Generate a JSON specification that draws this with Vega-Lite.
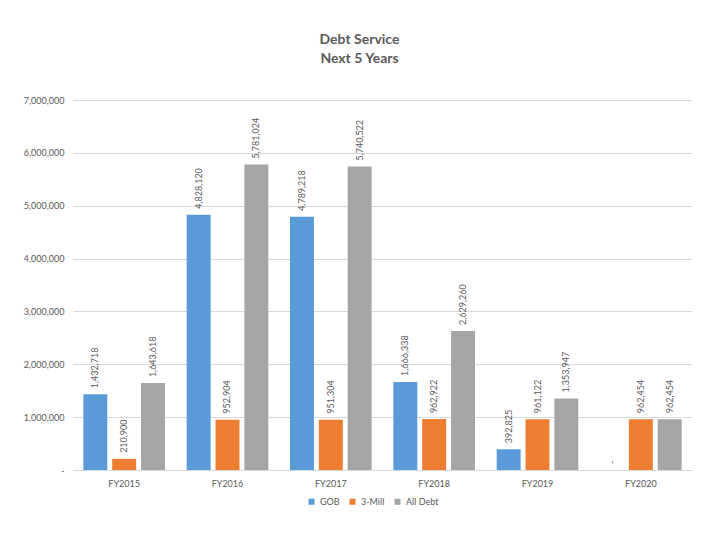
{
  "$schema": "https://vega.github.io/schema/vega-lite/v6.json",
  "width": 619,
  "height": 370,
  "autosize": {"type": "none"},
  "padding": {"left": 73, "top": 100, "right": 28, "bottom": 70},
  "background": "white",
  "title": {
    "text": ["Debt Service", "Next 5 Years"],
    "font": "Lato",
    "fontSize": 14,
    "fontWeight": "bold",
    "color": "#595959",
    "anchor": "middle",
    "dx": -23,
    "offset": 30,
    "lineHeight": 19
  },
  "data": {
    "values": [
      {"year": "FY2015", "series": "GOB", "value": 1432718},
      {"year": "FY2015", "series": "3-Mill", "value": 210900},
      {"year": "FY2015", "series": "All Debt", "value": 1643618},
      {"year": "FY2016", "series": "GOB", "value": 4828120},
      {"year": "FY2016", "series": "3-Mill", "value": 952904},
      {"year": "FY2016", "series": "All Debt", "value": 5781024},
      {"year": "FY2017", "series": "GOB", "value": 4789218},
      {"year": "FY2017", "series": "3-Mill", "value": 951304},
      {"year": "FY2017", "series": "All Debt", "value": 5740522},
      {"year": "FY2018", "series": "GOB", "value": 1666338},
      {"year": "FY2018", "series": "3-Mill", "value": 962922},
      {"year": "FY2018", "series": "All Debt", "value": 2629260},
      {"year": "FY2019", "series": "GOB", "value": 392825},
      {"year": "FY2019", "series": "3-Mill", "value": 961122},
      {"year": "FY2019", "series": "All Debt", "value": 1353947},
      {"year": "FY2020", "series": "GOB", "value": 0},
      {"year": "FY2020", "series": "3-Mill", "value": 962454},
      {"year": "FY2020", "series": "All Debt", "value": 962454}
    ]
  },
  "encoding": {
    "x": {
      "field": "year",
      "type": "nominal",
      "scale": {"paddingInner": 0.21, "paddingOuter": 0.1},
      "axis": {"title": null, "labelAngle": 0, "ticks": false, "domainColor": "#d9d9d9", "labelPadding": 9, "grid": false}
    },
    "xOffset": {
      "field": "series",
      "type": "nominal",
      "sort": ["GOB", "3-Mill", "All Debt"],
      "scale": {"paddingInner": 0.17, "paddingOuter": 0}
    },
    "y": {
      "field": "value",
      "type": "quantitative",
      "scale": {"domain": [0, 7000000], "nice": false},
      "axis": {
        "title": null,
        "values": [0, 1000000, 2000000, 3000000, 4000000, 5000000, 6000000, 7000000],
        "labelExpr": "datum.value === 0 ? '-  ' : format(datum.value, ',')",
        "domain": false,
        "ticks": false,
        "labelPadding": 9,
        "gridColor": "#d9d9d9"
      }
    }
  },
  "layer": [
    {
      "mark": {"type": "bar"},
      "encoding": {
        "color": {
          "field": "series",
          "type": "nominal",
          "sort": ["GOB", "3-Mill", "All Debt"],
          "scale": {"domain": ["GOB", "3-Mill", "All Debt"], "range": ["#5a9ad8", "#ED7D31", "#A5A5A5"]},
          "legend": {"title": null, "orient": "none", "legendX": 234, "legendY": 397, "direction": "horizontal", "symbolType": "square", "symbolSize": 36, "labelFontSize": 9, "columnPadding": 8, "symbolStrokeWidth": 0}
        }
      }
    },
    {
      "mark": {"type": "text", "angle": 270, "align": "left", "baseline": "middle", "dx": 6, "font": "Lato", "fontSize": 9, "color": "#595959"},
      "encoding": {
        "text": {
          "condition": {"test": "datum.value === 0", "value": "-"},
          "field": "value",
          "format": ","
        }
      }
    }
  ],
  "config": {
    "view": {"stroke": null},
    "font": "Lato",
    "axis": {"labelFont": "Lato", "labelFontSize": 9, "labelColor": "#595959"},
    "legend": {"labelFont": "Lato", "labelColor": "#595959"}
  }
}
